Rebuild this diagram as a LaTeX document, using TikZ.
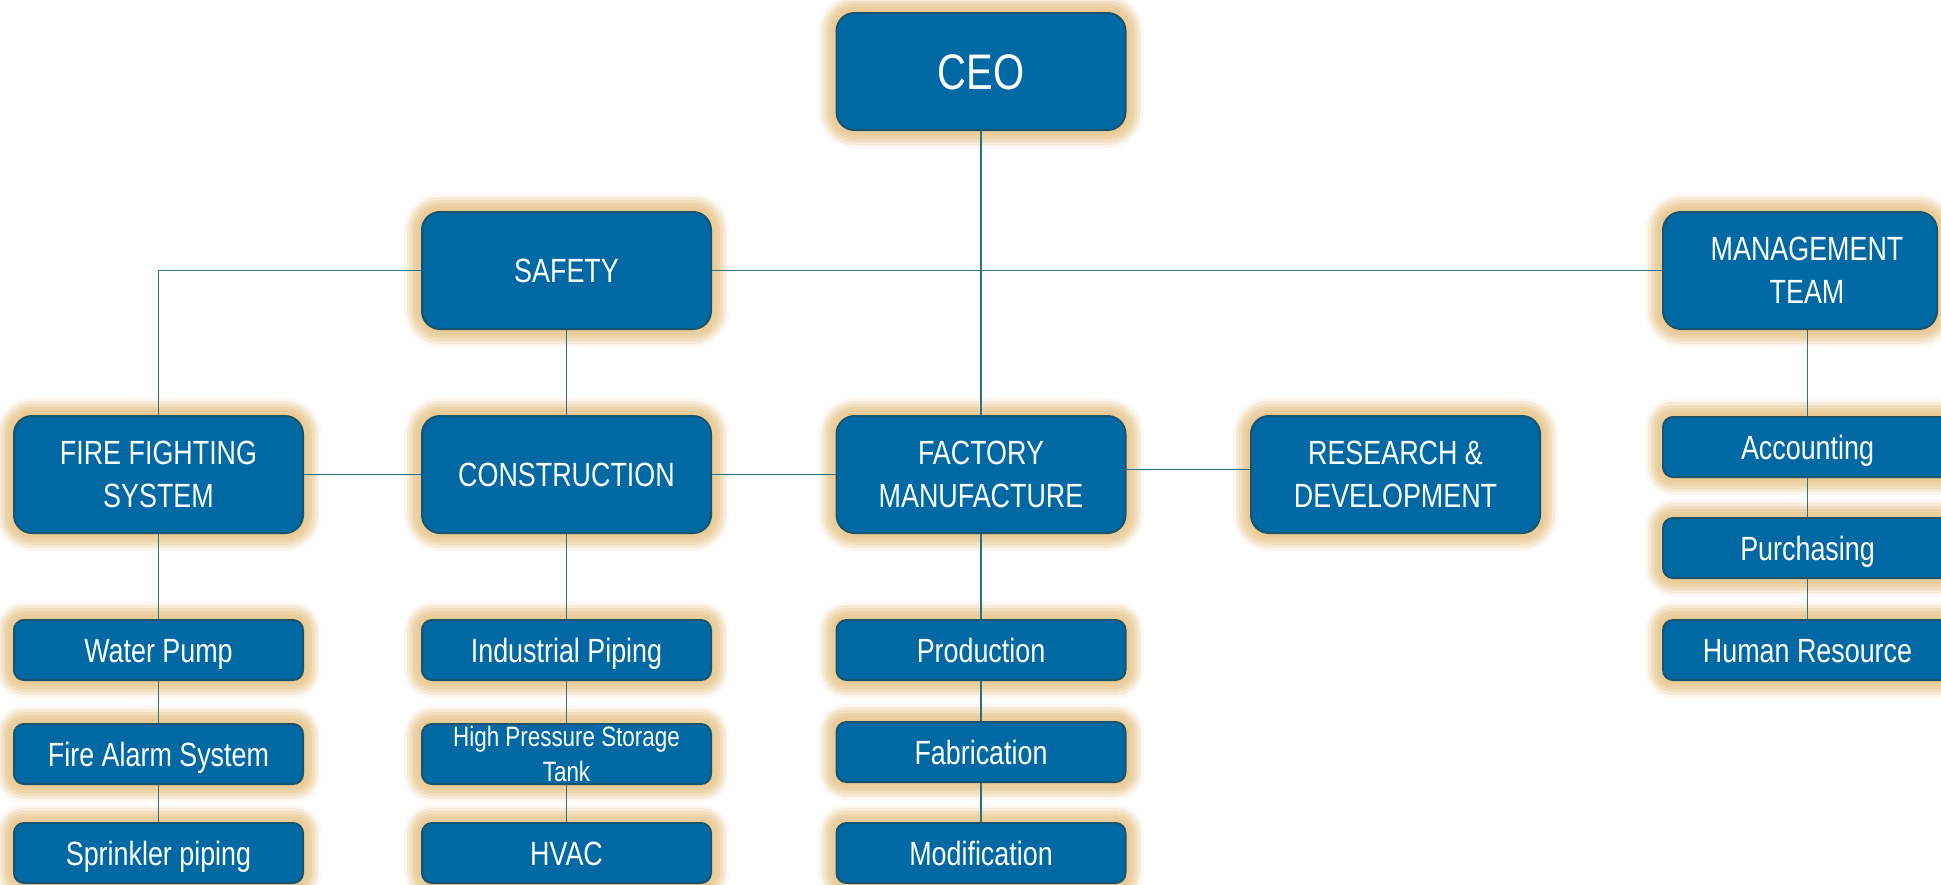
\documentclass[tikz,border=0pt]{standalone}
\usepackage{fontspec}
\setmainfont{Liberation Sans}[FakeStretch=0.8]
\definecolor{boxblue}{HTML}{0069A3}
\definecolor{boxedge}{HTML}{18546E}
\definecolor{linecol}{HTML}{2E6F80}
\definecolor{glowtan}{HTML}{E9CB98}
\tikzset{
  glow/.style={
    preaction={draw=glowtan!15,line width=18pt},
    preaction={draw=glowtan!38,line width=15pt},
    preaction={draw=glowtan!62,line width=12pt},
    preaction={draw=glowtan!82,line width=9pt},
    preaction={draw=glowtan!95,line width=6pt},
    preaction={draw=glowtan,line width=3pt}},
  bigbox/.style={glow, rectangle, rounded corners=9pt, fill=boxblue, draw=boxedge,
    line width=1pt, text=white, minimum width=144.5pt, minimum height=58.5pt,
    align=center, inner sep=0pt, font=\fontsize{16.8}{21.3}\selectfont},
  oneline/.style={text height=12pt, text depth=0pt},
  ceobox/.style={bigbox, font=\fontsize{25}{30}\selectfont, text height=17.9pt, text depth=0pt},
  smallbox/.style={bigbox, minimum height=30pt, rounded corners=5pt},
  conn/.style={draw=linecol, line width=0.75pt}
}
\begin{document}
\begin{tikzpicture}[x=0.5pt,y=-0.5pt]
\useasboundingbox (0,0) rectangle (1941,884);
% top and second level
\node[ceobox] (ceo) at (981,71.5) {CEO};
\node[bigbox,oneline] (safety) at (566.5,270.5) {SAFETY};
\node[bigbox,minimum width=137pt] (mgmt) at (1800,270.5) {\hspace*{7pt}MANAGEMENT\\\hspace*{7pt}TEAM};
% third level
\node[bigbox] (fire) at (158.5,474.5) {FIRE FIGHTING\\SYSTEM};
\node[bigbox,oneline] (cons) at (566.5,474.5) {CONSTRUCTION};
\node[bigbox] (fact) at (981,474.5) {FACTORY\\MANUFACTURE};
\node[bigbox] (rd) at (1395.5,474.5) {RESEARCH \&\\DEVELOPMENT};
% small boxes
\node[smallbox,oneline] (water) at (158.5,650) {Water Pump};
\node[smallbox,oneline] (alarm) at (158.5,754) {Fire Alarm System};
\node[smallbox,oneline] (sprink) at (158.5,853) {Sprinkler piping};
\node[smallbox,oneline] (indus) at (566.5,650) {Industrial Piping};
\node[smallbox,font=\fontsize{14}{17.5}\selectfont] (hp) at (566.5,754) {High Pressure Storage\\Tank};
\node[smallbox,oneline] (hvac) at (566.5,853) {HVAC};
\node[smallbox,oneline] (prod) at (981,650) {Production};
\node[smallbox,oneline] (fab) at (981,752) {Fabrication};
\node[smallbox,oneline] (mod) at (981,853) {Modification};
\node[smallbox,oneline] (acc) at (1807.5,447) {Accounting};
\node[smallbox,oneline] (pur) at (1807.5,548) {Purchasing};
\node[smallbox,oneline] (hr) at (1807.5,650) {Human Resource};
% connectors
\draw[conn] (ceo.south) -- (fact.north);
\draw[conn] (fire.north) |- (safety.west);
\draw[conn] (safety.east) -- (mgmt.west);
\draw[conn] (safety.south) -- (cons.north);
\draw[conn] (fire.east) -- (cons.west);
\draw[conn] (cons.east) -- (fact.west);
\draw[conn] ([yshift=2.5pt]fact.east) -- ([yshift=2.5pt]rd.west);
\draw[conn] (acc.north) -- (acc.north |- mgmt.south);
\draw[conn] (acc.south) -- (pur.north);
\draw[conn] (pur.south) -- (hr.north);
\draw[conn] (fire.south) -- (water.north);
\draw[conn] (water.south) -- (alarm.north);
\draw[conn] (alarm.south) -- (sprink.north);
\draw[conn] (cons.south) -- (indus.north);
\draw[conn] (indus.south) -- (hp.north);
\draw[conn] (hp.south) -- (hvac.north);
\draw[conn] (fact.south) -- (prod.north);
\draw[conn] (prod.south) -- (fab.north);
\draw[conn] (fab.south) -- (mod.north);
\end{tikzpicture}
\end{document}
